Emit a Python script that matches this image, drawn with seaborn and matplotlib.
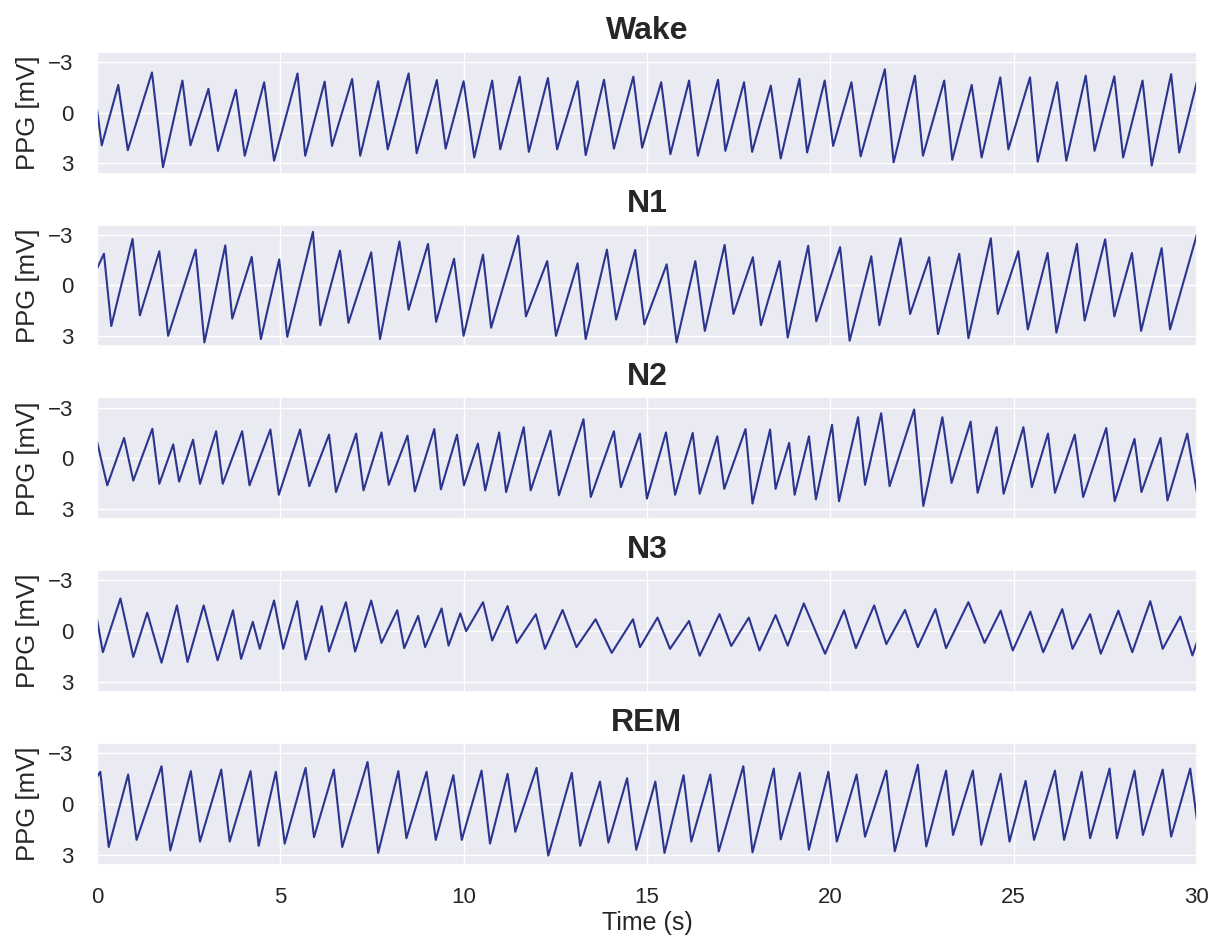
import numpy as np
import pandas as pd
import matplotlib
matplotlib.use("Agg")
import matplotlib.pyplot as plt
import seaborn as sns

# ---- data: alternating extrema (time in s, PPG in mV) ----
stages = ["Wake", "N1", "N2", "N3", "REM"]

wake_t = [0.0, 0.13, 0.58, 0.84, 1.50, 1.80, 2.33, 2.55, 3.04, 3.30, 3.79, 4.03,
          4.56, 4.83, 5.47, 5.68, 6.21, 6.41, 6.96, 7.18, 7.67, 7.93, 8.50, 8.72,
          9.27, 9.51, 10.0, 10.29, 10.78, 11.0, 11.53, 11.78, 12.30, 12.55, 13.11,
          13.33, 13.83, 14.1, 14.63, 14.87, 15.39, 15.64, 16.15, 16.39, 16.94,
          17.14, 17.65, 17.87, 18.38, 18.65, 19.16, 19.37, 19.85, 20.08, 20.58,
          20.83, 21.49, 21.73, 22.31, 22.53, 23.11, 23.33, 23.86, 24.13, 24.64,
          24.86, 25.45, 25.66, 26.19, 26.44, 26.97, 27.21, 27.75, 27.99, 28.52,
          28.77, 29.30, 29.52, 30.0]
wake_v = [-0.2, 1.93, -1.64, 2.22, -2.38, 3.23, -1.9, 1.93, -1.41, 2.26, -1.35, 2.55,
          -1.8, 2.84, -2.32, 2.55, -1.84, 1.97, -1.99, 2.55, -1.86, 2.17, -2.32, 2.4,
          -1.93, 2.13, -1.86, 2.65, -1.9, 2.17, -2.13, 2.32, -2.05, 2.17, -1.86,
          2.51, -1.95, 2.13, -2.13, 2.07, -1.8, 2.46, -1.9, 2.55, -1.95,
          2.26, -1.8, 2.32, -1.6, 2.71, -2.0, 2.36, -1.9, 1.97, -1.8,
          2.59, -2.57, 2.94, -2.19, 2.55, -1.9, 2.79, -1.64, 2.65, -2.09,
          2.17, -2.09, 2.9, -1.8, 2.84, -2.19, 2.26, -2.15, 2.65, -1.9,
          3.13, -2.28, 2.36, -1.8]

n1_t = [0.0, 0.19, 0.39, 0.97, 1.17, 1.70, 1.94, 2.69, 2.93, 3.50, 3.69, 4.22,
        4.47, 4.97, 5.19, 5.89, 6.09, 6.63, 6.86, 7.48, 7.72, 8.25, 8.50, 9.03,
        9.25, 9.74, 10.0, 10.53, 10.75, 11.49, 11.70, 12.28, 12.52, 13.11, 13.33,
        13.91, 14.16, 14.68, 14.93, 15.54, 15.81, 16.32, 16.58, 17.12, 17.36,
        17.89, 18.11, 18.62, 18.84, 19.40, 19.62, 20.27, 20.53, 21.12, 21.34,
        21.92, 22.18, 22.70, 22.94, 23.52, 23.77, 24.38, 24.57, 25.13, 25.39,
        25.93, 26.17, 26.73, 26.94, 27.50, 27.75, 28.23, 28.48, 29.04, 29.27, 30.0]
n1_v = [-1.0, -1.88, 2.4, -2.75, 1.77, -2.02, 2.98, -2.12, 3.37, -2.37, 1.96, -1.69,
        3.17, -1.54, 3.04, -3.17, 2.35, -2.06, 2.21, -1.96, 3.17, -2.6, 1.44, -2.46,
        2.15, -1.58, 2.98, -1.83, 2.5, -2.94, 1.83, -1.44, 2.98, -1.31, 3.17,
        -2.12, 2.02, -2.1, 2.3, -1.25, 3.37, -1.44, 2.69, -2.4, 1.69,
        -1.67, 2.35, -1.44, 3.08, -2.35, 2.12, -2.27, 3.27, -1.73, 2.35,
        -2.79, 1.69, -1.67, 2.88, -1.87, 3.12, -2.79, 1.69, -2.02, 2.6,
        -1.92, 2.79, -2.46, 2.08, -2.73, 1.83, -1.92, 2.69, -2.21, 2.6, -3.0]

n2_t = [0.0, 0.28, 0.74, 0.99, 1.51, 1.70, 2.08, 2.24, 2.62, 2.81, 3.25, 3.43,
        3.96, 4.16, 4.73, 4.96, 5.54, 5.79, 6.33, 6.52, 7.07, 7.27, 7.76, 7.96,
        8.47, 8.67, 9.20, 9.38, 9.82, 10.01, 10.39, 10.59, 10.97, 11.16, 11.64,
        11.83, 12.37, 12.60, 13.27, 13.47, 14.10, 14.29, 14.81, 15.0, 15.52,
        15.77, 16.25, 16.44, 16.92, 17.11, 17.69, 17.88, 18.36, 18.51, 18.88,
        19.03, 19.42, 19.61, 20.05, 20.24, 20.76, 20.95, 21.39, 21.62, 22.29,
        22.54, 23.06, 23.31, 23.83, 24.02, 24.54, 24.73, 25.27, 25.50, 25.94,
        26.13, 26.67, 26.90, 27.53, 27.76, 28.30, 28.49, 29.01, 29.20, 29.74, 30.0]
n2_v = [-1.0, 1.6, -1.2, 1.32, -1.75, 1.51, -0.82, 1.38, -1.1, 1.51, -1.6, 1.51,
        -1.6, 1.6, -1.7, 2.16, -1.7, 1.65, -1.4, 2.0, -1.46, 1.9, -1.53, 1.57,
        -1.34, 1.96, -1.73, 1.84, -1.4, 1.6, -0.87, 1.9, -1.53, 2.0, -1.84,
        1.9, -1.63, 2.19, -2.31, 2.29, -1.6, 1.71, -1.46, 2.39, -1.53,
        2.16, -1.5, 2.1, -1.3, 1.81, -1.73, 2.68, -1.7, 1.81, -0.91,
        2.16, -1.3, 2.43, -1.98, 2.54, -2.43, 1.57, -2.66, 1.65, -2.89,
        2.82, -2.43, 1.46, -2.17, 2.04, -1.84, 2.1, -1.84, 1.71, -1.46,
        2.04, -1.4, 2.29, -1.79, 2.54, -1.15, 2.0, -1.2, 2.49, -1.46, 2.0]

n3_t = [0.0, 0.16, 0.64, 0.99, 1.37, 1.76, 2.18, 2.47, 2.91, 3.29, 3.71, 3.93,
        4.25, 4.44, 4.83, 5.08, 5.46, 5.69, 6.13, 6.33, 6.79, 7.04, 7.48, 7.76,
        8.19, 8.38, 8.76, 8.95, 9.40, 9.59, 9.91, 10.07, 10.53, 10.78, 11.20,
        11.45, 11.97, 12.22, 12.70, 13.08, 13.60, 14.04, 14.62, 14.81, 15.29,
        15.63, 16.15, 16.44, 16.98, 17.30, 17.78, 18.07, 18.51, 18.84, 19.28,
        19.86, 20.38, 20.70, 21.20, 21.53, 22.04, 22.39, 22.87, 23.16, 23.77,
        24.21, 24.65, 24.98, 25.46, 25.81, 26.33, 26.61, 27.09, 27.38, 27.86,
        28.24, 28.73, 29.07, 29.55, 29.88, 30.0]
n3_v = [-0.7, 1.25, -1.93, 1.53, -1.09, 1.87, -1.52, 1.83, -1.52, 1.73, -1.23, 1.64,
        -0.55, 1.05, -1.81, 1.05, -1.77, 1.68, -1.48, 1.21, -1.71, 1.21, -1.81, 0.7,
        -1.23, 1.01, -0.9, 0.95, -1.34, 0.86, -1.05, 0.0, -1.71, 0.56, -1.48,
        0.7, -1.0, 1.05, -1.25, 0.95, -0.7, 1.29, -0.7, 0.95, -0.8,
        1.05, -0.6, 1.46, -1.0, 0.88, -0.8, 1.15, -0.95, 0.86, -1.64,
        1.34, -1.23, 1.01, -1.52, 0.77, -1.25, 0.95, -1.3, 1.01, -1.71,
        0.7, -1.21, 1.15, -1.15, 1.25, -1.3, 1.05, -1.0, 1.34, -1.21,
        1.25, -1.77, 1.05, -0.86, 1.44, 0.68]

rem_t = [0.0, 0.09, 0.32, 0.85, 1.08, 1.76, 2.00, 2.56, 2.81, 3.39, 3.62, 4.19,
         4.41, 4.88, 5.12, 5.69, 5.92, 6.46, 6.69, 7.38, 7.67, 8.22, 8.44, 8.99,
         9.24, 9.72, 9.95, 10.49, 10.72, 11.20, 11.41, 11.99, 12.31, 12.95, 13.18,
         13.72, 13.95, 14.46, 14.71, 15.23, 15.48, 16.00, 16.21, 16.73, 16.96,
         17.63, 17.88, 18.46, 18.65, 19.17, 19.42, 19.95, 20.18, 20.72, 20.95,
         21.53, 21.76, 22.39, 22.62, 23.16, 23.35, 23.89, 24.12, 24.65, 24.89,
         25.33, 25.56, 26.13, 26.38, 26.86, 27.09, 27.62, 27.82, 28.30, 28.53,
         29.07, 29.30, 29.82, 30.0]
rem_v = [-1.6, -1.9, 2.55, -1.74, 2.13, -2.23, 2.75, -1.94, 2.23, -2.03, 2.23, -1.94,
         2.48, -1.9, 2.35, -2.13, 1.97, -2.03, 2.55, -2.48, 2.9, -1.94, 2.03, -1.9,
         2.13, -1.7, 2.13, -1.97, 2.35, -1.78, 1.65, -2.13, 3.06, -1.84, 2.48,
         -1.32, 2.29, -1.52, 2.71, -1.32, 2.9, -1.7, 2.23, -1.74, 2.81,
         -2.23, 2.87, -2.09, 2.1, -1.84, 2.71, -1.9, 2.23, -1.74, 1.94,
         -1.97, 2.81, -2.32, 2.52, -1.97, 1.84, -1.97, 2.42, -1.78, 2.23,
         -1.36, 2.13, -1.97, 2.13, -1.9, 2.03, -2.09, 2.03, -1.97, 1.84,
         -2.03, 1.94, -2.09, 0.9]

x_ticks = [0, 5, 10, 15, 20, 25, 30]
y_ticks = [-3, 0, 3]
y_tick_labels = ["\u22123", "0", "3"]

series = {"Wake": (wake_t, wake_v), "N1": (n1_t, n1_v), "N2": (n2_t, n2_v),
          "N3": (n3_t, n3_v), "REM": (rem_t, rem_v)}

frames = []
for s in stages:
    t, v = series[s]
    frames.append(pd.DataFrame({"Time": t, "PPG": v, "Stage": s}))
df = pd.concat(frames, ignore_index=True)

# ---- style ----
sns.set_theme(style="darkgrid")
plt.rcParams["font.family"] = ["Arial", "Liberation Sans", "DejaVu Sans"]
plt.rcParams["xtick.labelsize"] = 16
plt.rcParams["ytick.labelsize"] = 16
plt.rcParams["xtick.major.pad"] = 10
plt.rcParams["ytick.major.pad"] = 11

line_color = "#2b3590"

fig, axes = plt.subplots(5, 1, figsize=(12.2, 9.42), dpi=100, sharex=True)
fig.subplots_adjust(left=0.0795, right=0.981, top=0.945, bottom=0.082, hspace=0.42)

for ax, s in zip(axes, stages):
    d = df[df["Stage"] == s]
    sns.lineplot(data=d, x="Time", y="PPG", ax=ax, color=line_color,
                 linewidth=1.5, estimator=None, sort=False)
    ax.set_title(s, fontsize=23, fontweight="bold", pad=9)
    ax.set_xlim(0, 30)
    ax.set_ylim(3.6, -3.6)
    ax.set_yticks(y_ticks)
    ax.set_yticklabels(y_tick_labels, fontsize=16)
    ax.set_ylabel("PPG [mV]", fontsize=18.5, labelpad=6)
    ax.set_xlabel("")

axes[-1].set_xticks(x_ticks)
axes[-1].set_xticklabels([str(x) for x in x_ticks], fontsize=16)
axes[-1].set_xlabel("Time (s)", fontsize=18, labelpad=2)

fig.savefig("out.png", dpi=100)
